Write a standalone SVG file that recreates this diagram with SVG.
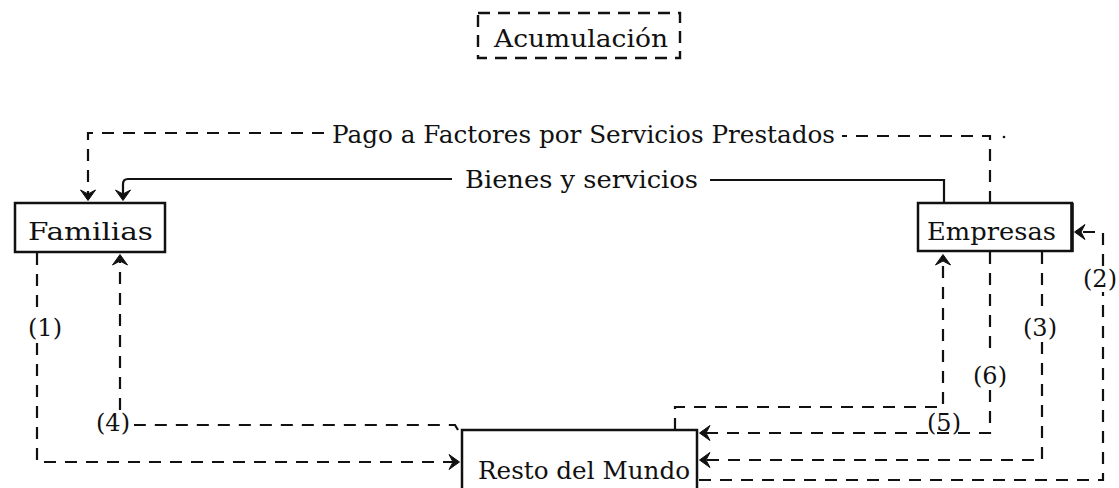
<svg xmlns="http://www.w3.org/2000/svg" width="1119" height="488" viewBox="0 0 1119 488">
  <style>
    .t { font-family: "DejaVu Serif", "Liberation Serif", serif; font-size: 25px; fill: #111; }
    .lbl { font-family: "DejaVu Serif", "Liberation Serif", serif; font-size: 24px; fill: #111; text-anchor: middle; }
    .box { fill: #fff; stroke: #111; stroke-width: 2.5; }
    .dbox { fill: none; stroke: #111; stroke-width: 2.4; stroke-dasharray: 12 8; }
    .solid { fill: none; stroke: #111; stroke-width: 2.2; }
    .dash { fill: none; stroke: #111; stroke-width: 2.2; stroke-dasharray: 12 9; }
  </style>
  <defs>
    <marker id="ah" viewBox="-11 -9 13 18" refX="0" refY="0" markerWidth="13" markerHeight="18" markerUnits="userSpaceOnUse" orient="auto">
      <path d="M1.5,0 L-9,-7.5 L-5,0 L-9,7.5 Z" fill="#111" stroke="#111" stroke-width="1"/>
    </marker>
  </defs>

  <g id="acumulacion">
    <rect class="dbox" x="478" y="13" width="202" height="45"/>
    <text class="t" x="494" y="47" textLength="174" lengthAdjust="spacingAndGlyphs">Acumulación</text>
  </g>

  <g id="familias">
    <rect class="box" x="15" y="203" width="150" height="49"/>
    <text class="t" x="28" y="240" textLength="125" lengthAdjust="spacingAndGlyphs">Familias</text>
  </g>

  <g id="empresas">
    <rect class="box" x="918" y="203" width="154" height="48"/>
    <line x1="1072" y1="203" x2="1072" y2="252" stroke="#111" stroke-width="3.5"/>
    <text class="t" x="927" y="240" textLength="129" lengthAdjust="spacingAndGlyphs">Empresas</text>
  </g>

  <g id="resto">
    <rect class="box" x="462" y="430" width="235" height="70"/>
    <text class="t" x="478" y="479" textLength="212" lengthAdjust="spacingAndGlyphs">Resto del Mundo</text>
  </g>

  <g id="connectors">
    <!-- Pago a Factores -->
    <path class="dash" d="M990,203 V136 H842"/>
    <path class="dash" d="M324,133 H88 V199" marker-end="url(#ah)"/>
    <circle cx="1004" cy="137" r="1.3" fill="#111"/>
    <!-- Bienes y servicios -->
    <path class="solid" d="M944,203 V180 H710"/>
    <path class="solid" d="M452,179 H128 Q123,179 123,184 V199" marker-end="url(#ah)"/>
    <!-- (1) -->
    <path class="dash" d="M37,253 V312"/>
    <path class="dash" d="M37,343 V462 H458" marker-end="url(#ah)"/>
    <!-- (4) -->
    <path class="dash" d="M458,430 L455,425 H134"/>
    <path class="dash" d="M120,410 V256" marker-end="url(#ah)"/>
    <!-- (5) -->
    <path class="dash" d="M675,430 V407 H943 V256" marker-end="url(#ah)"/>
    <!-- (6) -->
    <path class="dash" d="M990,252 V356"/>
    <path class="dash" d="M990,390 V433 H701" marker-end="url(#ah)"/>
    <!-- (3) -->
    <path class="dash" d="M1042,252 V312"/>
    <path class="dash" d="M1042,342 V460 H701" marker-end="url(#ah)"/>
    <!-- (2) -->
    <path class="dash" d="M699,480 H1103 V292"/>
    <path class="dash" d="M1103,266 V232 H1076" marker-end="url(#ah)"/>
  </g>

  <g id="labels">
    <text class="t" x="332" y="143" textLength="503" lengthAdjust="spacingAndGlyphs">Pago a Factores por Servicios Prestados</text>
    <text class="t" x="465" y="188" textLength="233" lengthAdjust="spacingAndGlyphs">Bienes y servicios</text>
    <text class="lbl" x="45" y="336">(1)</text>
    <text class="lbl" x="1100" y="287">(2)</text>
    <text class="lbl" x="1040" y="336">(3)</text>
    <text class="lbl" x="113" y="431">(4)</text>
    <text class="lbl" x="944" y="431">(5)</text>
    <text class="lbl" x="990" y="384">(6)</text>
  </g>
</svg>
